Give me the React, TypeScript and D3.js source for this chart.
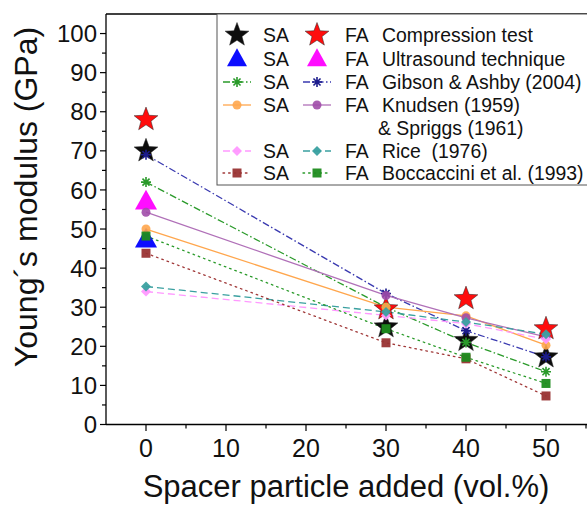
import React from "react";
import * as d3 from "d3";

const spacer = [0, 30, 40, 50];
const ultrasoundX = [0];
const saCompression = [70, 25, 21.5, 17.3];
const faCompression = [78, 29.6, 32.2, 24.5];
const saUltrasound = [47.3];
const faUltrasound = [57];
const saGibson = [62, 30, 21, 13.5];
const faGibson = [69, 33.5, 24, 17.3];
const saKnudsen = [50, 30, 27.8, 20.3];
const faKnudsen = [54.3, 33, 27.3, 22.4];
const saRice = [34, 27.9, 25.8, 21.8];
const faRice = [35.3, 28.8, 26.2, 23.1];
const saBoccaccini = [43.8, 20.9, 16.8, 7.3];
const faBoccaccini = [48.2, 24.5, 17.2, 10.5];

const xTicks = [0, 10, 20, 30, 40, 50];
const xMinor = [5, 15, 25, 35, 45, 55];
const yTicks = [0, 10, 20, 30, 40, 50, 60, 70, 80, 90, 100];
const yMinor = [5, 15, 25, 35, 45, 55, 65, 75, 85, 95];

const legendNames = [
  "Compression test",
  "Ultrasound technique",
  "Gibson & Ashby (2004)",
  "Knudsen (1959)",
  "Rice  (1976)",
  "Boccaccini et al. (1993)",
];
const legendExtra = "& Spriggs (1961)";

const W = 587;
const H = 506;
const FONT = "'Liberation Sans', Arial, sans-serif";

const x = d3.scaleLinear().domain([-5, 60]).range([106, 626]);
const y = d3.scaleLinear().domain([0, 105]).range([424.5, 14]);

function starPath(R: number) {
  const r = R * 0.42;
  const pts: string[] = [];
  for (let i = 0; i < 10; i++) {
    const a = -Math.PI / 2 + (i * Math.PI) / 5;
    const rr = i % 2 === 0 ? R : r;
    pts.push(`${(rr * Math.cos(a)).toFixed(2)},${(rr * Math.sin(a)).toFixed(2)}`);
  }
  return "M" + pts.join("L") + "Z";
}
function trianglePath(s: number) {
  const h = s * 0.9;
  return `M0,${-h * 0.6}L${s / 2},${h * 0.4}L${-s / 2},${h * 0.4}Z`;
}
function diamondPath(s: number) {
  return `M0,${-s}L${s},0L0,${s}L${-s},0Z`;
}
function squarePath(s: number) {
  return `M${-s},${-s}H${s}V${s}H${-s}Z`;
}
function asteriskPath(s: number) {
  const d = s * 0.707;
  return `M${-s},0H${s}M0,${-s}V${s}M${-d},${-d}L${d},${d}M${-d},${d}L${d},${-d}`;
}

type Kind = "star" | "tri" | "ast" | "circle" | "diamond" | "square";

function Marker({ kind, cx, cy, color, size }: { kind: Kind; cx: number; cy: number; color: string; size: number }) {
  const t = `translate(${cx},${cy})`;
  if (kind === "circle") return <circle cx={cx} cy={cy} r={size} fill={color} fillOpacity={0.9} />;
  if (kind === "ast")
    return <path transform={t} d={asteriskPath(size)} stroke={color} strokeWidth={1.6} fill="none" />;
  const d =
    kind === "star" ? starPath(size) : kind === "tri" ? trianglePath(size) : kind === "diamond" ? diamondPath(size) : squarePath(size);
  return <path transform={t} d={d} fill={color} stroke={kind === "star" ? "#222" : "none"} strokeWidth={kind === "star" ? 0.5 : 0} fillOpacity={0.95} />;
}

type Series = { xs: number[]; vals: number[]; kind: Kind; color: string; lineColor?: string; dash?: string; size: number };

const dashDot = "7,2.5,1.5,2.5";
const dashed = "7,4";
const dotted = "1.6,4";

const models: Series[] = [
  { xs: spacer, vals: saGibson, kind: "ast", color: "#2a9a2a", lineColor: "#2a9a2a", dash: dashDot, size: 5 },
  { xs: spacer, vals: faGibson, kind: "ast", color: "#1c1c8c", lineColor: "#3a3ab0", dash: dashDot, size: 5 },
  { xs: spacer, vals: saKnudsen, kind: "circle", color: "#ffa64d", lineColor: "#ffa64d", size: 4.5 },
  { xs: spacer, vals: faKnudsen, kind: "circle", color: "#a04ca8", lineColor: "#b070b8", size: 4.5 },
  { xs: spacer, vals: saRice, kind: "diamond", color: "#ff99ff", lineColor: "#ff99ff", dash: dashed, size: 5 },
  { xs: spacer, vals: faRice, kind: "diamond", color: "#3aa0a0", lineColor: "#3aa0a0", dash: dashed, size: 5 },
  { xs: spacer, vals: saBoccaccini, kind: "square", color: "#993333", lineColor: "#a03838", dash: dotted, size: 4.5 },
  { xs: spacer, vals: faBoccaccini, kind: "square", color: "#1e8c1e", lineColor: "#2a9a2a", dash: dotted, size: 4.5 },
];

const measured: Series[] = [
  { xs: spacer, vals: saCompression, kind: "star", color: "#000000", size: 12.5 },
  { xs: spacer, vals: faCompression, kind: "star", color: "#ff0000", size: 12.5 },
  { xs: ultrasoundX, vals: saUltrasound, kind: "tri", color: "#0000ff", size: 22 },
  { xs: ultrasoundX, vals: faUltrasound, kind: "tri", color: "#ff00ff", size: 22 },
];

export default function App() {
  const line = d3.line<number>();
  const legendRows = [35, 59, 82, 105, 151, 173];
  const legendPairs: [Series, Series][] = [
    [measured[0], measured[1]],
    [measured[2], measured[3]],
    [models[0], models[1]],
    [models[2], models[3]],
    [models[4], models[5]],
    [models[6], models[7]],
  ];
  const LF = 19.4;
  return (
    <svg width={W} height={H} style={{ position: "absolute", left: 0, top: 0, background: "#fff" }} fontFamily={FONT}>
      <rect width={W} height={H} fill="#fff" />
      {models.map((s, i) => (
        <path
          key={"l" + i}
          d={line(s.vals.map((v, j) => [x(s.xs[j]), y(v)]) as any) || ""}
          fill="none"
          stroke={s.lineColor}
          strokeWidth={1.3}
          strokeDasharray={s.dash}
          strokeLinecap={s.dash === dotted ? "round" : "butt"}
        />
      ))}
      {measured.map((s, i) =>
        s.vals.map((v, j) => <Marker key={`m${i}-${j}`} kind={s.kind} cx={x(s.xs[j])} cy={y(v)} color={s.color} size={s.size} />)
      )}
      {models.map((s, i) =>
        s.vals.map((v, j) => <Marker key={`o${i}-${j}`} kind={s.kind} cx={x(s.xs[j])} cy={y(v)} color={s.color} size={s.size} />)
      )}

      <line x1={106} x2={W} y1={14} y2={14} stroke="#000" strokeWidth={1.3} />
      <line x1={106} x2={106} y1={14} y2={424.5} stroke="#000" strokeWidth={1.3} />
      <line x1={106} x2={W} y1={424.5} y2={424.5} stroke="#000" strokeWidth={1.3} />

      {yTicks.map((t) => (
        <g key={"yt" + t}>
          <line x1={100} x2={106} y1={y(t)} y2={y(t)} stroke="#000" strokeWidth={1.2} />
          <text x={97} y={y(t)} dy="0.36em" textAnchor="end" fontSize={24} fill="#111">
            {t}
          </text>
        </g>
      ))}
      {yMinor.map((t) => (
        <line key={"ym" + t} x1={102} x2={106} y1={y(t)} y2={y(t)} stroke="#000" strokeWidth={1.2} />
      ))}
      {xTicks.map((t) => (
        <g key={"xt" + t}>
          <line x1={x(t)} x2={x(t)} y1={424.5} y2={431} stroke="#000" strokeWidth={1.2} />
          <text x={x(t)} y={457} textAnchor="middle" fontSize={25} fill="#111">
            {t}
          </text>
        </g>
      ))}
      {xMinor.map((t) => (
        <line key={"xm" + t} x1={x(t)} x2={x(t)} y1={424.5} y2={428.5} stroke="#000" strokeWidth={1.2} />
      ))}

      <text x={346} y={497} textAnchor="middle" fontSize={31} fill="#111">
        Spacer particle added (vol.%)
      </text>
      <text transform="translate(37,197) rotate(-90)" textAnchor="middle" fontSize={32} fill="#111">
        Young´s modulus (GPa)
      </text>

      <rect x={217} y={14} width={W - 217 + 5} height={171} fill="#fff" stroke="#555" strokeWidth={1} />
      {legendPairs.map((pair, i) => {
        const cy = legendRows[i];
        return (
          <g key={"lg" + i}>
            {pair.map((s, k) => {
              const cx = k === 0 ? 237 : 317;
              const isModel = s.kind !== "star" && s.kind !== "tri";
              return (
                <g key={k}>
                  {isModel && (
                    <line
                      x1={cx - 14}
                      x2={cx + 14}
                      y1={cy}
                      y2={cy}
                      stroke={s.lineColor}
                      strokeWidth={1.3}
                      strokeDasharray={s.dash}
                      strokeLinecap={s.dash === dotted ? "round" : "butt"}
                    />
                  )}
                  <Marker kind={s.kind} cx={cx} cy={cy} color={s.color} size={s.kind === "tri" ? 20 : s.size} />
                </g>
              );
            })}
            <text x={263} y={cy} dy="0.36em" fontSize={LF} fill="#111">
              SA
            </text>
            <text x={345} y={cy} dy="0.36em" fontSize={LF} fill="#111">
              FA
            </text>
            <text x={382} y={cy} dy="0.36em" fontSize={LF} fill="#111" style={{ whiteSpace: "pre" }}>
              {legendNames[i]}
            </text>
          </g>
        );
      })}
      <text x={378} y={128} dy="0.36em" fontSize={LF} fill="#111">
        {legendExtra}
      </text>
    </svg>
  );
}
